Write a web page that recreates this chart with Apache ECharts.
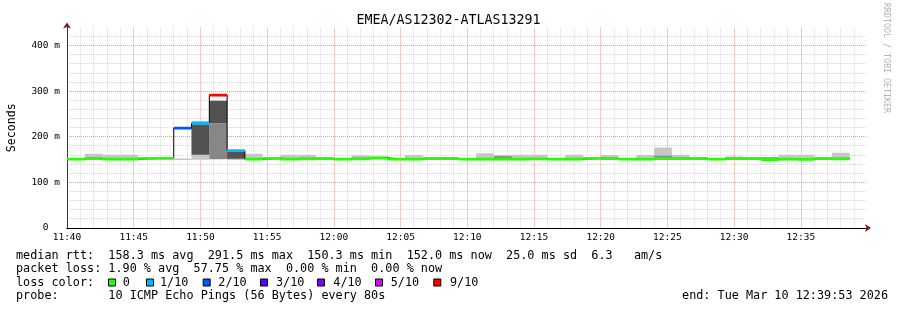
<!DOCTYPE html>
<html>
<head>
<meta charset="utf-8">
<script src="https://cdn.jsdelivr.net/npm/echarts@6/dist/echarts.min.js"></script>
<style>html,body{margin:0;padding:0;background:#fff}#c{width:897px;height:310px}</style>
</head>
<body>
<div id="c"></div>
<script>
// ---------- data ----------
const chartTitle = 'EMEA/AS12302-ATLAS13291';
const stepSeconds = 80;            // one RRD step
const axisEndSeconds = 3593;       // 11:40:00 -> 12:39:53
const xTickLabels = ['11:40','11:45','11:50','11:55','12:00','12:05','12:10','12:15','12:20','12:25','12:30','12:35'];
const yTickLabels = ['0\u00a0\u00a0','100 m','200 m','300 m','400 m'];

// median rtt (ms) per 80 s step starting at 11:40:00
const medianRtt = [151,152.5,151,151,153,153,219,230,291.5,170,
                   151,153,151,152,152.5,151,152,154,151,151,
                   152.5,152.5,151,151,151,151,151.5,151,151,153,
                   152.5,151,151,152.5,152.5,152.5,151,152.5,152.5,150.3,
                   151,150.5,152.5,152];
// index into lossColors per step
const lossLevel = [0,0,0,0,0,0,2,1,6,1,
                   0,0,0,0,0,0,0,0,0,0,
                   0,0,0,0,0,0,0,0,0,0,
                   0,0,0,0,0,0,0,0,0,0,
                   0,0,0,0];
// smoke layers [low, high] in ms per step (null = none)
const smokeLight = [[150,153],[151,163],[150,161],[150,161],[149,153],[151,154],[149.5,152.5],[150,235],null,[149,168],
                    [150,163],[150,154],[150,161],[150,161],[149,154],[150,153],[151,159.5],[151,157],[150,153],[151,160],
                    [150,154],[150,154],[149,152],[152,164],[151,160],[151,161],[151,161],[149,152],[151,160.5],[150,156],
                    [151,160],[150,153],[151,160],[154,176.5],[151,161],[150,154],[149,152],[151,157],[150,154],[149,155],
                    [150,161],[150,161],[151,154],[151,165]];
const smokeMid = [null,null,null,null,null,null,null,null,[151,230],null,
                  null,null,null,null,null,null,null,null,null,null,
                  null,null,null,null,[153.5,157.3],null,null,null,null,null,
                  null,null,null,[154,158.5],null,null,null,null,null,[152,155],
                  null,null,null,null];
const smokeDark = [null,null,null,null,null,null,null,[161,227],[230,279],[152,167.5],
                   null,null,null,null,null,null,null,null,null,null,
                   null,null,null,null,null,null,null,null,null,null,
                   null,null,null,null,null,null,null,null,null,null,
                   null,null,null,null];

const lossLabels = ['0','1/10','2/10','3/10','4/10','5/10','9/10'];
const lossColors = ['#26ff00','#00b8ff','#0059ff','#5e00ff','#7e00ff','#dd00ff','#ff0000'];

const legendRtt  = 'median rtt:  158.3 ms avg  291.5 ms max  150.3 ms min  152.0 ms now  25.0 ms sd  6.3   am/s';
const legendLoss = 'packet loss: 1.90 % avg  57.75 % max  0.00 % min  0.00 % now';
const legendColorHead = 'loss color:';
const legendProbe = 'probe:       10 ICMP Echo Pings (56 Bytes) every 80s';
const legendEnd = 'end: Tue Mar 10 12:39:53 2026';
const watermark = 'RRDTOOL / TOBI OETIKER';

// ---------- build ----------
const mono = '"DejaVu Sans Mono", monospace';
const minorGrid = 'rgba(175,175,175,0.5)';
const majorGrid = 'rgba(228,80,80,0.6)';

// grid positions: every minute / every 20 ms (minor), every 100 ms (major)
const minorXTicks = [];
for (let s = 60; s < axisEndSeconds; s += 60) if (s % 300 !== 0) minorXTicks.push(s);
const minorYTicks = [];
for (let v = 20; v < 440; v += 20) if (v % 100 !== 0) minorYTicks.push(v);
const majorYTicks = [100, 200, 300, 400];

function crisp(c) { return Math.round(c - 0.5) + 0.5; }

function hGridSeries(ticks, color) {
  return { type: 'custom', xAxisIndex: 0, yAxisIndex: 0, silent: true, z: 0,
    data: ticks.map(v => [0, v]), encode: { x: 0, y: 1 },
    renderItem(params, api) {
      const cs = params.coordSys;
      const y = crisp(api.coord([0, api.value(1)])[1]);
      return { type: 'line', shape: { x1: cs.x, y1: y, x2: cs.x + cs.width, y2: y },
               style: { stroke: color, lineWidth: 1, lineDash: [1, 1] } };
    } };
}
function vGridSeries(ticks, color) {
  return { type: 'custom', xAxisIndex: 0, yAxisIndex: 0, silent: true, z: 0,
    data: ticks.map(s => [s, 0]), encode: { x: 0, y: 1 },
    renderItem(params, api) {
      const cs = params.coordSys;
      const x = crisp(api.coord([api.value(0), 0])[0]);
      return { type: 'line', shape: { x1: x, y1: cs.y, x2: x, y2: cs.y + cs.height },
               style: { stroke: color, lineWidth: 1, lineDash: [1, 1] } };
    } };
}

function layerData(arr) {
  const out = [];
  arr.forEach((r, k) => { if (r) out.push([k * stepSeconds, (k + 1) * stepSeconds, r[0], r[1]]); });
  return out;
}
function smokeSeries(arr, color) {
  return {
    type: 'custom', xAxisIndex: 0, yAxisIndex: 0, clip: true, silent: true,
    encode: { x: [0, 1], y: [2, 3] },
    data: layerData(arr),
    renderItem(params, api) {
      const p0 = api.coord([api.value(0), api.value(3)]);
      const p1 = api.coord([api.value(1), api.value(2)]);
      return { type: 'rect', shape: { x: p0[0], y: p0[1], width: p1[0] - p0[0], height: p1[1] - p0[1] },
               style: { fill: color } };
    }
  };
}
const medianData = medianRtt.map((m, k) => [k * stepSeconds, (k + 1) * stepSeconds, m, lossLevel[k]]);
const stepLine = medianRtt.map((m, k) => [k * stepSeconds, m]);
stepLine.push([medianRtt.length * stepSeconds, medianRtt[medianRtt.length - 1]]);

const legendSquareX = [108, 146, 202.7, 260, 317, 375, 433.3];
const legendTextX = [122.7, 160, 218.3, 276, 333.3, 390.7, 450];
const rowY = [255.5, 269, 282.5, 296.3];
const legendFont = { fontFamily: mono, fontSize: 11.8, fill: '#000', align: 'left', verticalAlign: 'middle' };

const graphics = [
  { type: 'text', x: 16, y: rowY[0], style: Object.assign({ text: legendRtt }, legendFont) },
  { type: 'text', x: 16, y: rowY[1], style: Object.assign({ text: legendLoss }, legendFont) },
  { type: 'text', x: 16, y: rowY[2], style: Object.assign({ text: legendColorHead }, legendFont) },
  { type: 'text', x: 16, y: rowY[3], style: Object.assign({ text: legendProbe }, legendFont) },
  { type: 'text', x: 888, y: rowY[3], style: Object.assign({}, legendFont, { text: legendEnd, align: 'right' }) },
  { type: 'text', x: 886.5, y: 58, rotation: -Math.PI / 2,
    style: { text: watermark, fontFamily: mono, fontSize: 8.3, fill: '#b4b4b4', align: 'center', verticalAlign: 'middle' } }
];
lossLabels.forEach((lab, i) => {
  graphics.push({ type: 'rect', shape: { x: legendSquareX[i] + 0.5, y: rowY[2] - 3.5, width: 7, height: 7 },
                  style: { fill: lossColors[i], stroke: '#000', lineWidth: 1 } });
  graphics.push({ type: 'text', x: legendTextX[i], y: rowY[2], style: Object.assign({ text: lab }, legendFont) });
});

const axisLabelStyle = { fontFamily: mono, fontSize: 9.5, color: '#000' };

const option = {
  animation: false,
  backgroundColor: '#ffffff',
  title: { text: chartTitle, left: 'center', top: 9,
           textStyle: { fontFamily: mono, fontSize: 13.3, fontWeight: 'normal', color: '#000' } },
  grid: { left: 67, top: 27.5, width: 799, height: 200.5, containLabel: false, outerBoundsMode: 'none' },
  xAxis: [
    { type: 'value', position: 'bottom', min: 0, max: axisEndSeconds, interval: 60, z: 3,
      axisLine: { show: true, onZero: false, lineStyle: { color: '#000', width: 1 } },
      axisTick: { show: false }, axisLabel: { show: false }, splitLine: { show: false } },
    { type: 'value', position: 'bottom', min: 0, max: axisEndSeconds, interval: 300, z: 2,
      axisLine: { show: true, onZero: false, symbol: ['none', 'arrow'], symbolSize: [6, 6], symbolOffset: [0, 5],
                  lineStyle: { color: '#8b1010', width: 1 } },
      axisTick: { show: false },
      axisLabel: Object.assign({ show: true, margin: 5, showMaxLabel: false,
        formatter: v => (v % 300 === 0 && xTickLabels[v / 300] !== undefined) ? xTickLabels[v / 300] : '' }, axisLabelStyle),
      splitLine: { show: true, showMinLine: false, showMaxLine: false, lineStyle: { color: majorGrid, type: 'dotted', width: 1 } } }
  ],
  yAxis: [
    { type: 'value', position: 'left', min: 0, max: 440, interval: 20, z: 2,
      axisLine: { show: false }, axisTick: { show: false }, axisLabel: { show: false }, splitLine: { show: false } },
    { type: 'value', position: 'left', min: 0, max: 440, interval: 100, z: 3,
      name: 'Seconds', nameLocation: 'middle', nameRotate: 90, nameGap: 49,
      nameTextStyle: { fontFamily: mono, fontSize: 11.6, color: '#000' },
      axisLine: { show: true, onZero: false, symbol: ['none', 'arrow'], symbolSize: [6, 6], symbolOffset: [0, 5],
                  lineStyle: { color: '#7a1a1a', width: 1 } },
      axisTick: { show: false },
      axisLabel: Object.assign({ show: true, margin: 7, showMaxLabel: false,
        formatter: v => (v % 100 === 0 && yTickLabels[v / 100] !== undefined) ? yTickLabels[v / 100] : '' }, axisLabelStyle),
      splitLine: { show: false } }
  ],
  graphic: graphics,
  series: [
    hGridSeries(minorYTicks, minorGrid),
    vGridSeries(minorXTicks, minorGrid),
    hGridSeries(majorYTicks, majorGrid),
    smokeSeries(smokeLight, '#c6c6c6'),
    smokeSeries(smokeMid, '#878787'),
    smokeSeries(smokeDark, '#525252'),
    { type: 'line', xAxisIndex: 0, yAxisIndex: 0, step: 'end', data: stepLine, symbol: 'none', silent: true,
      lineStyle: { color: '#000', width: 1 }, z: 3 },
    { type: 'custom', xAxisIndex: 0, yAxisIndex: 0, clip: true, silent: true, z: 4,
      encode: { x: [0, 1], y: 2 },
      data: medianData,
      renderItem(params, api) {
        const s = api.coord([api.value(0), api.value(2)]);
        const e = api.coord([api.value(1), api.value(2)]);
        return { type: 'line', shape: { x1: s[0], y1: s[1], x2: e[0], y2: e[1] },
                 style: { stroke: lossColors[api.value(3)], lineWidth: 2.8 } };
      } }
  ]
};

const chart = echarts.init(document.getElementById('c'));
chart.setOption(option);
</script>
</body>
</html>
